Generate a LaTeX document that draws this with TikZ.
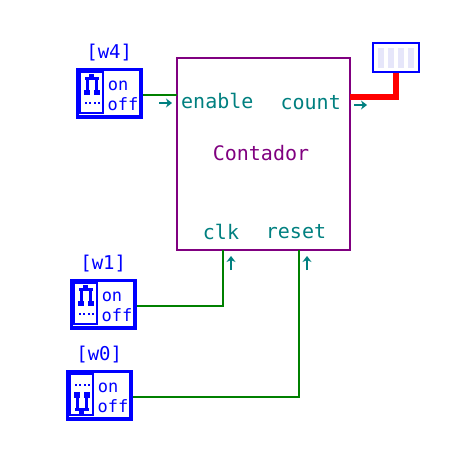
\documentclass[tikz,border=0pt]{standalone}
\usepackage{xcolor}
\definecolor{swblue}{HTML}{0000FF}
\definecolor{boxpurple}{HTML}{800080}
\definecolor{portteal}{HTML}{008080}
\definecolor{wiregreen}{HTML}{008000}
\definecolor{barlav}{HTML}{E6E6FA}
\usepackage{fontspec}
\setmonofont{DejaVu Sans Mono}
\usepackage{tikz}
\usetikzlibrary{positioning,arrows.meta,calc}
% name, left, top, label, 1 = lever up / -1 = lever down
\newcommand{\onoffswitch}[5]{
    \fill[swblue] (#2,#3) rectangle ++(67,51);
    \node[swframe, anchor=north west] (#1) at (#2+3,#3+3) {};
    \node[swlabel, above=10pt of #1] (#1lab) {[#4]};
    \node[swtext] (#1on) at (#2+42,#3+18) {on};
    \node[swtext] (#1off) at (#2+47,#3+36) {off};
    \coordinate (#1out) at (#2+67,#3+27);
    \draw[swblue, line width=2pt] (#2+4,#3+4) rectangle ++(23,41);
    \begin{scope}[shift={(#2+15.5,#3+24.5)}, yscale=#5]
        \fill[swblue] (-2.5,-19) rectangle (2.5,-16);
        \fill[swblue] (-7,-16) rectangle (7,-13);
        \fill[swblue] (-6,-13) rectangle (-3,2.5);
        \fill[swblue] (3,-13) rectangle (6,2.5);
        \fill[swblue] (-8,-3) rectangle (-2,2.5);
        \fill[swblue] (2,-3) rectangle (8,2.5);
        \foreach \dotx in {-7,-2.5,2,6}
            \fill[swblue] (\dotx,9) rectangle ++(2,2);
    \end{scope}
}

\begin{document}
\begin{tikzpicture}[x=1pt, y=-1pt,
                   swframe/.style={fill=white, minimum width=60pt, minimum height=44pt, inner sep=0pt},
                   swlabel/.style={font=\fontsize{19}{19}\ttfamily, text=swblue, inner sep=0pt},
                   swtext/.style={font=\fontsize{17}{17}\ttfamily, text=swblue, inner sep=0pt},
                   mainbox/.style={draw=boxpurple, line width=2pt, minimum width=173pt, minimum height=192pt, inner sep=0pt},
                   port/.style={font=\fontsize{20}{20}\ttfamily, text=portteal, inner sep=0pt},
                   wire/.style={draw=wiregreen, line width=2.4pt},
                   buswire/.style={draw=red, line width=6pt},
                   portarrow/.style={draw=portteal, line width=2.4pt, -{Stealth[length=6pt,width=9pt]}},
                   bar/.style={fill=barlav}]
    \useasboundingbox (0,0) rectangle (466,450);
    \fill[white] (0,0) rectangle (466,450);
    \onoffswitch{swfour}{76}{68}{w4}{1}
    \onoffswitch{swone}{70}{279}{w1}{1}
    \onoffswitch{swzero}{66}{370}{w0}{-1}
    \node[mainbox] (cont) at (263.5,154) {};
    \node[port, text=boxpurple] (contlab) at (261,153) {Contador};
    \node[port, anchor=west] (enable) at (181,101) {enable};
    \node[port, anchor=east] (count) at (341,103) {count};
    \node[port] (clk) at (221,232) {clk};
    \node[port] (reset) at (296,232) {reset};
    \node[draw=swblue, line width=2.4pt, fill=white, minimum width=46pt, minimum height=29pt, inner sep=0pt] (disp) at (396,57.5) {};
    \foreach \barx in {378,388,398,408}
        \fill[bar] (\barx,48) rectangle ++(6,20);
    \coordinate (enablein) at (177,95);
    \coordinate (countout) at (350,97);
    \coordinate (clkin) at (223,250);
    \coordinate (resetin) at (299,250);
    \draw[wire] (swfourout) -- (enablein);
    \draw[wire] (swoneout) -| (clkin);
    \draw[wire] (swzeroout) -| (resetin);
    \draw[buswire] (countout) -| (disp.south);
    \draw[portarrow] ($(enablein)+(-18,8)$) -- ++(13,0);
    \draw[portarrow] ($(countout)+(4,8)$) -- ++(13,0);
    \draw[portarrow] ($(clkin)+(8,20)$) -- ++(0,-14);
    \draw[portarrow] ($(resetin)+(8,20)$) -- ++(0,-14);
\end{tikzpicture}
\end{document}
